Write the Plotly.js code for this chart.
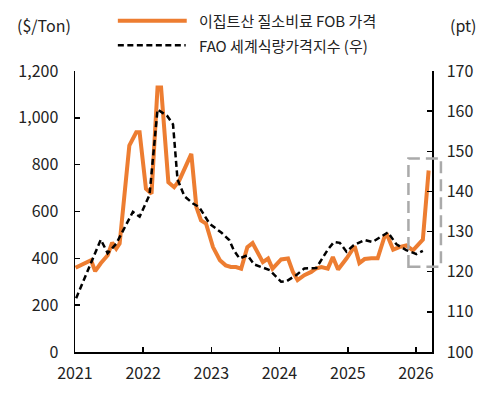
<!DOCTYPE html>
<html>
<head>
<meta charset="utf-8">
<script src="https://cdn.plot.ly/plotly-3.0.1.min.js"></script>
<style>
html,body{margin:0;padding:0;background:#fff;}
#chart{width:492px;height:395px;}
</style>
</head>
<body>
<div id="chart"></div>
<script>
// Egyptian urea (nitrogen fertilizer) FOB price, $/Ton (left axis)
const ureaDates = ['2021-01-04','2021-03-28','2021-04-19','2021-05-19','2021-06-25','2021-07-19','2021-08-10','2021-08-28',
  '2021-10-19','2021-11-25','2021-12-13','2022-01-16','2022-02-15','2022-03-19','2022-04-07','2022-05-16','2022-06-16',
  '2022-07-13','2022-09-16','2022-10-13','2022-11-07','2022-12-04','2023-01-10','2023-02-16','2023-03-19','2023-04-16',
  '2023-05-13','2023-06-10','2023-07-13','2023-08-10','2023-10-04','2023-11-01','2023-11-25','2024-01-10','2024-02-16',
  '2024-03-13','2024-04-07','2024-05-13','2024-06-19','2024-07-13','2024-08-13','2024-09-16','2024-10-13','2024-11-10',
  '2024-12-25','2025-02-07','2025-03-04','2025-04-01','2025-05-07','2025-06-10','2025-07-16','2025-08-01','2025-09-01',
  '2025-10-04','2025-11-10','2025-12-16','2026-02-07','2026-03-10'];
const ureaValues = [360,392,345,379,413,467,441,463,
  881,938,938,697,676,1130,1130,725,704,
  732,846,619,562,548,448,392,370,363,
  363,356,448,465,384,399,356,395,399,
  342,307,328,342,356,363,356,406,352,
  399,452,380,397,400,400,491,498,437,
  448,455,434,480,775];

// FAO Food Price Index, pt (right axis)
const faoDates = ['2021-01-07','2021-05-19','2021-06-25','2021-08-10','2021-09-16','2021-11-07','2021-12-13','2022-02-04',
  '2022-03-19','2022-05-10','2022-06-10','2022-07-04','2022-08-10','2022-09-25','2022-10-28','2022-12-22','2023-02-25',
  '2023-04-07','2023-05-01','2023-06-01','2023-07-13','2023-08-19','2023-11-10','2024-01-10','2024-02-07','2024-04-01',
  '2024-05-13','2024-07-16','2024-09-16','2024-10-19','2024-11-19','2024-12-25','2025-02-01','2025-04-01','2025-05-13',
  '2025-08-04','2025-09-19','2025-11-10','2026-01-04','2026-02-07'];
const faoValues = [113.4,128.0,124.6,127.0,130.3,134.9,133.7,139.1,
  160.4,158.8,156.7,143.0,138.8,137.0,136.1,132.0,129.7,
  127.9,125.4,123.3,124.1,121.8,120.4,117.5,117.6,119.2,
  120.8,120.9,125.5,127.4,127.2,125.0,126.6,127.9,127.4,
  129.8,126.8,125.4,124.4,125.2];

const yearTicks = ['2021-01-01','2022-01-01','2023-01-01','2024-01-01','2025-01-01','2026-01-01'];
const yearLabels = ['2021','2022','2023','2024','2025','2026'];
const seriesNames = ['이집트산 질소비료 FOB 가격','FAO 세계식량가격지수 (우)'];

const FONT = '"Noto Sans CJK KR", "Noto Sans", sans-serif';
const ORANGE = '#ED7D31';

const traces = [
  {x: ureaDates, y: ureaValues, type:'scatter', mode:'lines', name: seriesNames[0],
   line:{color:ORANGE, width:4}, showlegend:false, yaxis:'y'},
  {x: faoDates, y: faoValues, type:'scatter', mode:'lines', name: seriesNames[1],
   line:{color:'#000', width:2.5, dash:'6px,3.5px'}, showlegend:false, yaxis:'y2'}
];

const layout = {
  width:492, height:395,
  margin:{l:75, r:60, t:71, b:43},
  paper_bgcolor:'#fff', plot_bgcolor:'#fff',
  font:{family:FONT, size:16, color:'#222'},
  xaxis:{type:'date', range:['2021-01-01','2026-03-28'], tickvals:yearTicks, ticktext:yearLabels,
    showgrid:false, zeroline:false, showline:true, linecolor:'#000', linewidth:1.5,
    ticks:'inside', ticklen:5, tickwidth:1.5, tickcolor:'#000', ticklabelstandoff:6},
  yaxis:{range:[0,1200], dtick:200, tickformat:',', showgrid:false, zeroline:false,
    showline:true, linecolor:'#000', linewidth:1.5, ticks:'inside', ticklen:5, tickwidth:1.5, tickcolor:'#000',
    ticklabelstandoff:12},
  yaxis2:{range:[100,170], dtick:10, overlaying:'y', side:'right', showgrid:false, zeroline:false,
    showline:true, linecolor:'#000', linewidth:1.5, ticks:'inside', ticklen:5, tickwidth:1.5, tickcolor:'#000',
    ticklabelstandoff:10},
  shapes:[
    {type:'line', xref:'paper', yref:'paper', x0:0.12, x1:0.313, y0:1.1785, y1:1.1785,
     line:{color:ORANGE, width:4}},
    {type:'line', xref:'paper', yref:'paper', x0:0.12, x1:0.31, y0:1.0914, y1:1.0914,
     line:{color:'#000', width:2.5, dash:'6px,3.5px'}},
    {type:'rect', xref:'paper', yref:'paper', x0:0.934, x1:1.025, y0:0.303, y1:0.689,
     line:{color:'#AAAAAA', width:2.5, dash:'12px,6px'}, fillcolor:'rgba(0,0,0,0)'}
  ],
  annotations:[
    {xref:'paper', yref:'paper', x:0.3414, y:1.1785, xanchor:'left', yanchor:'middle', showarrow:false,
     text:seriesNames[0], font:{size:15, color:'#222'}},
    {xref:'paper', yref:'paper', x:0.3414, y:1.0914, xanchor:'left', yanchor:'middle', showarrow:false,
     text:seriesNames[1], font:{size:15, color:'#222'}},
    {xref:'paper', yref:'paper', x:-0.169, y:1.1625, xanchor:'left', yanchor:'middle', showarrow:false,
     text:'($/Ton)', font:{size:16, color:'#222'}},
    {xref:'paper', yref:'paper', x:1.044, y:1.1625, xanchor:'left', yanchor:'middle', showarrow:false,
     text:'(pt)', font:{size:16, color:'#222'}}
  ]
};

Plotly.newPlot('chart', traces, layout, {staticPlot:true, displayModeBar:false});
</script>
</body>
</html>
